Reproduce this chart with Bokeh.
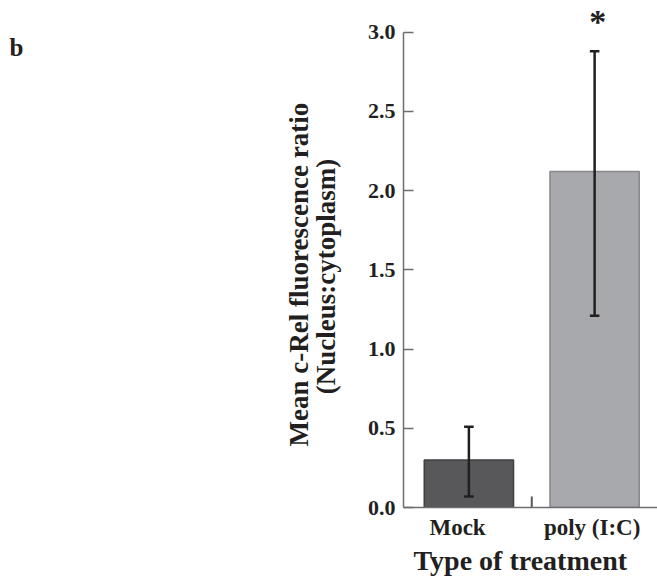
import math
from bokeh.plotting import figure
from bokeh.layouts import row
from bokeh.models import ColumnDataSource, FixedTicker, Range1d, Title
from bokeh.core.properties import value
from bokeh.embed import file_html
from bokeh.resources import INLINE

categories = ["Mock", "poly (I:C)"]
means = [0.30, 2.12]
err_low = [0.07, 1.21]
err_high = [0.51, 2.88]
bar_colors = ["#58585a", "#a7a9ac"]
bar_lines = ["#3f3f41", "#88888a"]
y_ticks = [0.0, 0.5, 1.0, 1.5, 2.0, 2.5, 3.0]
sig_marks = ["", "*"]
y_title_lines = ["Mean c-Rel fluorescence ratio", "(Nucleus:cytoplasm)"]
x_title = "Type of treatment"
panel_letter = "b"

FONT = "Liberation Serif"
INK = "#231f20"
xpos = [i + 0.5 for i in range(len(categories))]
label_shift = [-0.09, -0.02]

# ---- left strip: panel letter and y-axis title (pixel-like coordinates) ----
LW, H = 350, 577
left = figure(width=LW, height=H, output_backend="svg", toolbar_location=None,
              x_range=Range1d(0, LW), y_range=Range1d(0, H),
              x_axis_location=None, y_axis_location=None,
              min_border=0, min_border_left=0, min_border_right=0,
              min_border_top=0, min_border_bottom=0)
left.outline_line_color = None
left.xgrid.grid_line_color = None
left.ygrid.grid_line_color = None
left.text(x=[9], y=[H - 54], text=[panel_letter], text_font=value(FONT),
          text_font_style="bold", text_font_size="25px", text_color=INK,
          text_baseline="alphabetic", text_align="left")
left.text(x=[298, 325], y=[H - 312, H - 314], text=y_title_lines, angle=math.pi / 2,
          text_font=value(FONT), text_font_style="bold", text_font_size="27px",
          text_color=INK, text_align="center", text_baseline="middle")

# ---- main plot ----
p = figure(width=657 - LW, height=H, output_backend="svg", toolbar_location=None,
           x_range=Range1d(-0.02, 2.0), y_range=Range1d(0, 3.2),
           min_border_left=403 - LW, min_border_right=0, min_border_top=0,
           min_border_bottom=70)
p.outline_line_color = None
p.xgrid.grid_line_color = None
p.ygrid.grid_line_color = None

src = ColumnDataSource(dict(x=xpos, top=means, lo=err_low, hi=err_high,
                            sy=[3.07 for _ in err_high],
                            fill=bar_colors, line=bar_lines, sig=sig_marks))
p.vbar(x="x", top="top", bottom=0, width=0.71, source=src,
       fill_color="fill", line_color="line", line_width=1.5)

# error bars
p.segment(x0="x", y0="lo", x1="x", y1="hi", source=src, line_color=INK, line_width=2.5)
cap = 0.038
p.segment(x0=[x - cap for x in xpos], y0=err_low, x1=[x + cap for x in xpos], y1=err_low,
          line_color=INK, line_width=2.5)
p.segment(x0=[x - cap for x in xpos], y0=err_high, x1=[x + cap for x in xpos], y1=err_high,
          line_color=INK, line_width=2.5)

# significance asterisk
p.text(x="x", y="sy", text="sig", source=src, x_offset=3,
       text_font=value(FONT), text_font_style="bold", text_font_size="34px",
       text_align="center", text_baseline="middle", text_color=INK)

# divider tick between categories
p.segment(x0=[1.0], y0=[0], x1=[1.0], y1=[0.07], line_color="#58595b", line_width=2)

# y axis
ya = p.yaxis[0]
ya.ticker = FixedTicker(ticks=y_ticks)
ya.major_label_overrides = {t: f"{t:.1f}" for t in y_ticks}
ya.bounds = (0, 3.0)
ya.major_tick_in = 10
ya.major_tick_out = 0
ya.minor_tick_line_color = None
ya.axis_line_color = "#6d6e71"
ya.axis_line_width = 1.5
ya.major_tick_line_color = "#6d6e71"
ya.major_tick_line_width = 1.5
ya.major_label_text_font = FONT
ya.major_label_text_font_style = "bold"
ya.major_label_text_font_size = "22px"
ya.major_label_text_color = INK
ya.major_label_standoff = 8

# x axis
xt = [x + s for x, s in zip(xpos, label_shift)]
xa = p.xaxis[0]
xa.ticker = FixedTicker(ticks=xt)
xa.major_label_overrides = {x: c for x, c in zip(xt, categories)}
xa.major_tick_line_color = None
xa.minor_tick_line_color = None
xa.axis_line_color = "#6d6e71"
xa.axis_line_width = 1.5
xa.major_label_text_font = FONT
xa.major_label_text_font_style = "bold"
xa.major_label_text_font_size = "23px"
xa.major_label_text_color = INK
xa.major_label_standoff = 1

p.add_layout(Title(text=x_title, align="left", offset=10, standoff=0,
                   text_font=FONT, text_font_style="bold", text_font_size="28px",
                   text_color=INK), "below")

layout = row(left, p, spacing=0)
open("out.html", "w").write(file_html(layout, INLINE))
